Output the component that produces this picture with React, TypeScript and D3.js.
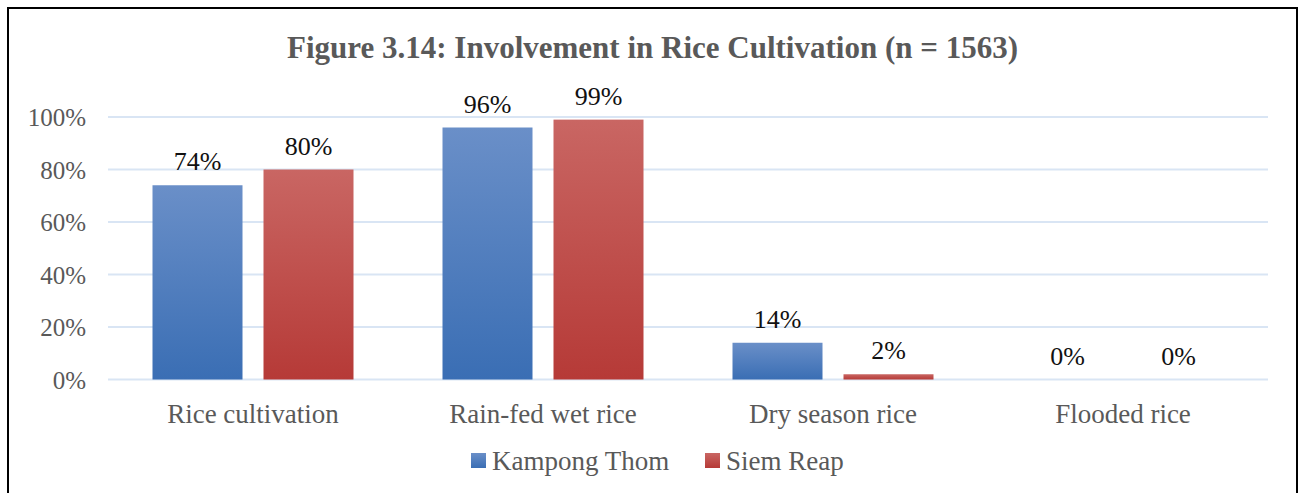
import React from "react";
import * as d3 from "d3";

const categories = ["Rice cultivation", "Rain-fed wet rice", "Dry season rice", "Flooded rice"];
const seriesNames = ["Kampong Thom", "Siem Reap"];
const kampongThom = [0.74, 0.96, 0.14, 0];
const siemReap = [0.8, 0.99, 0.02, 0];
const yTicks = [0, 0.2, 0.4, 0.6, 0.8, 1.0];
const title = "Figure 3.14: Involvement in Rice Cultivation (n = 1563)";

const W = 1298;
const H = 493;
const plotLeft = 108;
const plotRight = 1268;
const plotTop = 117;
const plotBottom = 379.5;
const FONT = "'Liberation Serif', 'Times New Roman', serif";

export default function App() {
  const x0 = d3.scaleBand<string>().domain(categories).range([plotLeft, plotRight]).paddingInner(0).paddingOuter(0);
  const y = d3.scaleLinear().domain([0, 1]).range([plotBottom, plotTop]);
  const groupW = 201;
  const x1 = d3.scaleBand<string>().domain(seriesNames).range([0, groupW]).paddingInner(21 / 111).paddingOuter(0);
  const series = [kampongThom, siemReap];
  const fills = ["url(#gBlue)", "url(#gRed)"];
  const fmt = d3.format(".0%");

  return (
    <svg width={W} height={H} style={{ position: "absolute", left: 0, top: 0, background: "#fff" }}>
      <defs>
        <linearGradient id="gBlue" x1="0" y1="0" x2="0" y2="1">
          <stop offset="0" stopColor="#6A8FC8" />
          <stop offset="1" stopColor="#3A6EB4" />
        </linearGradient>
        <linearGradient id="gRed" x1="0" y1="0" x2="0" y2="1">
          <stop offset="0" stopColor="#C96663" />
          <stop offset="1" stopColor="#B63A37" />
        </linearGradient>
      </defs>
      <rect x={8} y={8} width={1289} height={500} fill="#fff" stroke="#000" strokeWidth={2} />
      <text x={652.5} y={58} textAnchor="middle" fontFamily={FONT} fontWeight="bold" fontSize={31} fill="#595959">
        {title}
      </text>
      {yTicks.map((t) => (
        <g key={t}>
          <line x1={plotLeft} x2={plotRight} y1={y(t)} y2={y(t)} stroke="#D9E5F4" strokeWidth={2} />
          <text x={86} y={y(t) + 9} textAnchor="end" fontFamily={FONT} fontSize={25} fill="#595959">
            {fmt(t)}
          </text>
        </g>
      ))}
      {categories.map((c, i) => {
        const gx = (x0(c) as number) + (x0.bandwidth() - groupW) / 2;
        return (
          <g key={c}>
            {series.map((s, j) => {
              const bx = gx + (x1(seriesNames[j]) as number);
              const bw = x1.bandwidth();
              const top = y(s[i]);
              return (
                <g key={j}>
                  {s[i] > 0 && <rect x={bx} y={top} width={bw} height={plotBottom - top} fill={fills[j]} />}
                  <text x={bx + bw / 2} y={top - 15} textAnchor="middle" fontFamily={FONT} fontSize={26} fill="#111">
                    {fmt(s[i])}
                  </text>
                </g>
              );
            })}
            <text x={(x0(c) as number) + x0.bandwidth() / 2} y={423} textAnchor="middle" fontFamily={FONT} fontSize={27} fill="#595959">
              {c}
            </text>
          </g>
        );
      })}
      {seriesNames.map((n, j) => {
        const lx = [471, 705][j];
        return (
          <g key={n}>
            <rect x={lx} y={453} width={15} height={15} fill={fills[j]} />
            <text x={lx + 21} y={470} fontFamily={FONT} fontSize={27} fill="#595959">
              {n}
            </text>
          </g>
        );
      })}
    </svg>
  );
}
